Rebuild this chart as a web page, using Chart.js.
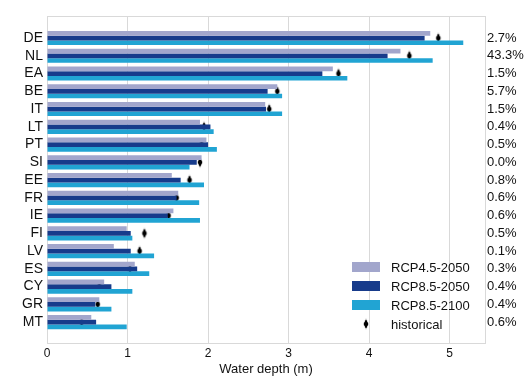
<!DOCTYPE html>
<html>
<head>
<meta charset="utf-8">
<script src="https://cdn.jsdelivr.net/npm/chart.js@4"></script>
<style>
    body { margin: 0; background: #fff; }
    #wrap { width: 526px; height: 376px; position: relative; }
</style>
</head>
<body>
<div id="wrap"><canvas id="grafico"></canvas></div>
<script>
const countries = ["DE", "NL", "EA", "BE", "IT", "LT", "PT", "SI", "EE", "FR", "IE", "FI", "LV", "ES", "CY", "GR", "MT"];
const shares = ["2.7%", "43.3%", "1.5%", "5.7%", "1.5%", "0.4%", "0.5%", "0.0%", "0.8%", "0.6%", "0.6%", "0.5%", "0.1%", "0.3%", "0.4%", "0.4%", "0.6%"];

const rcp45_2050 = [4.76, 4.39, 3.55, 2.86, 2.71, 1.90, 1.98, 1.92, 1.55, 1.63, 1.57, 0.99, 0.83, 1.09, 0.71, 0.65, 0.55];
const rcp85_2050 = [4.69, 4.23, 3.42, 2.74, 2.72, 2.03, 2.00, 1.86, 1.66, 1.61, 1.50, 1.04, 1.04, 1.12, 0.80, 0.60, 0.61];
const rcp85_2100 = [5.17, 4.79, 3.73, 2.92, 2.92, 2.07, 2.11, 1.77, 1.95, 1.89, 1.90, 1.06, 1.33, 1.27, 1.06, 0.80, 0.99];
const historical = [4.86, 4.50, 3.62, 2.86, 2.76, 1.95, 1.92, 1.90, 1.77, 1.61, 1.51, 1.21, 1.15, 1.03, 0.65, 0.63, 0.43];

const xTicks = [0, 1, 2, 3, 4, 5];

const cores = {
    rcp45: "#a2a6cc",
    rcp85: "#173b8b",
    rcp2100: "#21a4d3"
};
const gridColor = "#d9d9d9";
const fonte = "'Liberation Sans', Arial, sans-serif";

// tall narrow diamond for the historical marks
function diamante(w, h, fill, stroke) {
    const c = document.createElement("canvas");
    c.width = w + 2;
    c.height = h + 2;
    const g = c.getContext("2d");
    const cx = c.width / 2, cy = c.height / 2;
    g.beginPath();
    g.moveTo(cx, cy - h / 2);
    g.lineTo(cx + w / 2, cy);
    g.lineTo(cx, cy + h / 2);
    g.lineTo(cx - w / 2, cy);
    g.closePath();
    g.fillStyle = fill;
    g.fill();
    if (stroke) {
        g.strokeStyle = stroke;
        g.lineWidth = 1;
        g.stroke();
    }
    return c;
}
const marca = diamante(6, 12, "#000", "#fff");

const pontos = arr => arr.map((v, i) => ({ x: v, y: i }));
const yTicks = s => { s.ticks = countries.map((c, i) => ({ value: i })); };

const molduraLegenda = {
    id: "molduraLegenda",
    beforeDatasetsDraw(chart) {
        const a = chart.chartArea;
        const ctx = chart.ctx;
        ctx.save();
        ctx.strokeStyle = gridColor;
        ctx.lineWidth = 1;
        ctx.beginPath();
        ctx.moveTo(a.left, a.top + 0.5);
        ctx.lineTo(a.right, a.top + 0.5);
        ctx.stroke();
        ctx.restore();
    },
    afterDraw(chart) {
        const a = chart.chartArea;
        const ctx = chart.ctx;
        const itens = [
            { label: "RCP4.5-2050", cor: cores.rcp45 },
            { label: "RCP8.5-2050", cor: cores.rcp85 },
            { label: "RCP8.5-2100", cor: cores.rcp2100 },
            { label: "historical", cor: null }
        ];
        const x0 = a.right - 133;
        let y = a.bottom - 76;
        ctx.save();
        ctx.font = "13px " + fonte;
        ctx.textBaseline = "middle";
        itens.forEach(it => {
            if (it.cor) {
                ctx.fillStyle = it.cor;
                ctx.fillRect(x0, y - 5, 28, 10);
            } else {
                ctx.drawImage(marca, x0 + 14 - marca.width / 2, y - marca.height / 2);
            }
            ctx.fillStyle = "#111";
            ctx.fillText(it.label, x0 + 39, y + 1);
            y += 19;
        });
        ctx.restore();
    }
};

const barra = (label, data, cor) => ({
    type: "bar",
    label: label,
    data: pontos(data),
    backgroundColor: cor,
    categoryPercentage: 0.8,
    barPercentage: 1.0
});

new Chart(document.getElementById("grafico"), {
    data: {
        datasets: [
            barra("RCP4.5-2050", rcp45_2050, cores.rcp45),
            barra("RCP8.5-2050", rcp85_2050, cores.rcp85),
            barra("RCP8.5-2100", rcp85_2100, cores.rcp2100),
            {
                type: "scatter",
                label: "historical",
                data: pontos(historical),
                pointStyle: marca,
                pointRadius: 6,
                showLine: false
            }
        ]
    },

    options: {
        indexAxis: "y",
        responsive: true,
        maintainAspectRatio: false,
        animation: false,
        layout: {
            padding: { top: 16, left: 0, right: 0, bottom: 0 }
        },
        plugins: {
            legend: { display: false },
            tooltip: { enabled: false }
        },

        scales: {
            x: {
                type: "linear",
                position: "bottom",
                min: 0,
                max: 5.44,
                offset: false,
                afterBuildTicks: s => { s.ticks = xTicks.map(v => ({ value: v })); },
                afterFit: s => { s.height = 33; },
                ticks: {
                    color: "#111",
                    padding: 3,
                    font: { size: 12, family: fonte }
                },
                grid: {
                    display: true,
                    drawOnChartArea: true,
                    color: gridColor,
                    drawTicks: false,
                    offset: false
                },
                border: { color: gridColor },
                title: {
                    display: true,
                    text: "Water depth (m)",
                    color: "#111",
                    padding: 0,
                    font: { size: 13, family: fonte, lineHeight: 1 }
                }
            },

            y: {
                type: "linear",
                position: "left",
                reverse: true,
                offset: false,
                min: -1.24,
                max: 17.18,
                afterBuildTicks: yTicks,
                afterFit: s => { s.width = 47; },
                ticks: {
                    color: "#111",
                    padding: 4,
                    autoSkip: false,
                    font: { size: 14, family: fonte },
                    callback: v => countries[v]
                },
                grid: { display: false, drawTicks: false },
                border: { color: gridColor }
            },

            y2: {
                type: "linear",
                position: "right",
                reverse: true,
                offset: false,
                min: -1.24,
                max: 17.18,
                afterBuildTicks: yTicks,
                afterFit: s => { s.width = 41; },
                ticks: {
                    color: "#111",
                    padding: 2,
                    autoSkip: false,
                    font: { size: 13, family: fonte },
                    callback: v => shares[v]
                },
                grid: { display: false, drawTicks: false },
                border: { color: gridColor }
            }
        }
    },

    plugins: [molduraLegenda]
});
</script>
</body>
</html>
